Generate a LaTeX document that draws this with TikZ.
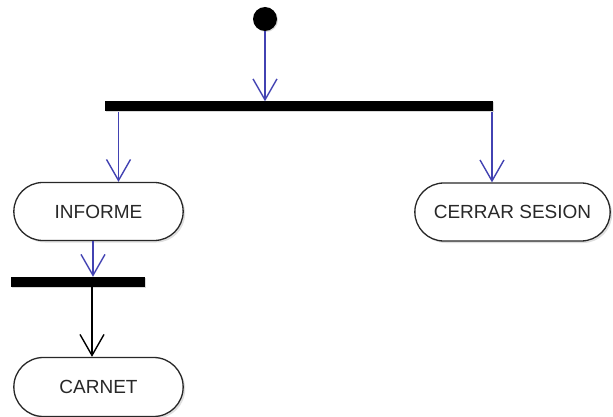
\documentclass[tikz,border=0pt]{standalone}
\usepackage{fontspec}
\setmainfont{Liberation Sans}
\usetikzlibrary{arrows.meta,shapes.misc,shadows}

\definecolor{flowblue}{RGB}{66,66,178}
\definecolor{edgegray}{RGB}{40,40,40}

\tikzstyle{activity}=[draw=edgegray, line width=1.3pt, rounded rectangle, fill=white, text=edgegray, minimum width=176pt, minimum height=58pt, font=\fontsize{19}{22}\selectfont, drop shadow={shadow xshift=2pt, shadow yshift=-2pt, opacity=0.25}]
\tikzstyle{syncbar}=[fill=black, inner sep=0pt, minimum height=10pt, drop shadow={shadow xshift=1pt, shadow yshift=-1pt, opacity=0.3}]
\tikzstyle{startnode}=[circle, fill=black, inner sep=0pt, minimum size=24pt, drop shadow={shadow xshift=1pt, shadow yshift=-1pt, opacity=0.3}]
\tikzstyle{flow}=[line width=1.4pt, -{Straight Barb[length=21pt, width=24pt, line width=1.4pt]}]

\begin{document}
\begin{tikzpicture}[x=1pt, y=-1pt]
          \useasboundingbox (0,0) rectangle (613,417);

          \node (inicio) [startnode] at (265,19) {};
          \node (fork1) [syncbar, minimum width=388pt] at (299,106.5) {};
          \node (informe) [activity] at (98.5,211.5) {INFORME};
          \node (cerrar) [activity, minimum width=202pt] at (512.5,212) {CERRAR SESION};
          \node (fork2) [syncbar, minimum width=134pt] at (78,282) {};
          \node (carnet) [activity, minimum height=59pt] at (98.5,387) {CARNET};

          \coordinate (inIn) at ([xshift=20pt]informe.north);
          \coordinate (inCe) at ([xshift=-20.5pt]cerrar.north);
          \coordinate (outIn) at ([xshift=-5.5pt]informe.south);
          \coordinate (inCa) at ([xshift=-6.5pt]carnet.north);

          \draw [flow, flowblue] (inicio) -- (fork1.north -| inicio);
          \draw [flow, flowblue] (fork1.south -| inIn) -- (inIn);
          \draw [flow, flowblue] (fork1.south -| inCe) -- (inCe);
          \draw [flow, flowblue] (outIn) -- (fork2.north -| outIn);
          \draw [flow, black] (fork2.south -| inCa) -- (inCa);
    \end{tikzpicture}
\end{document}
